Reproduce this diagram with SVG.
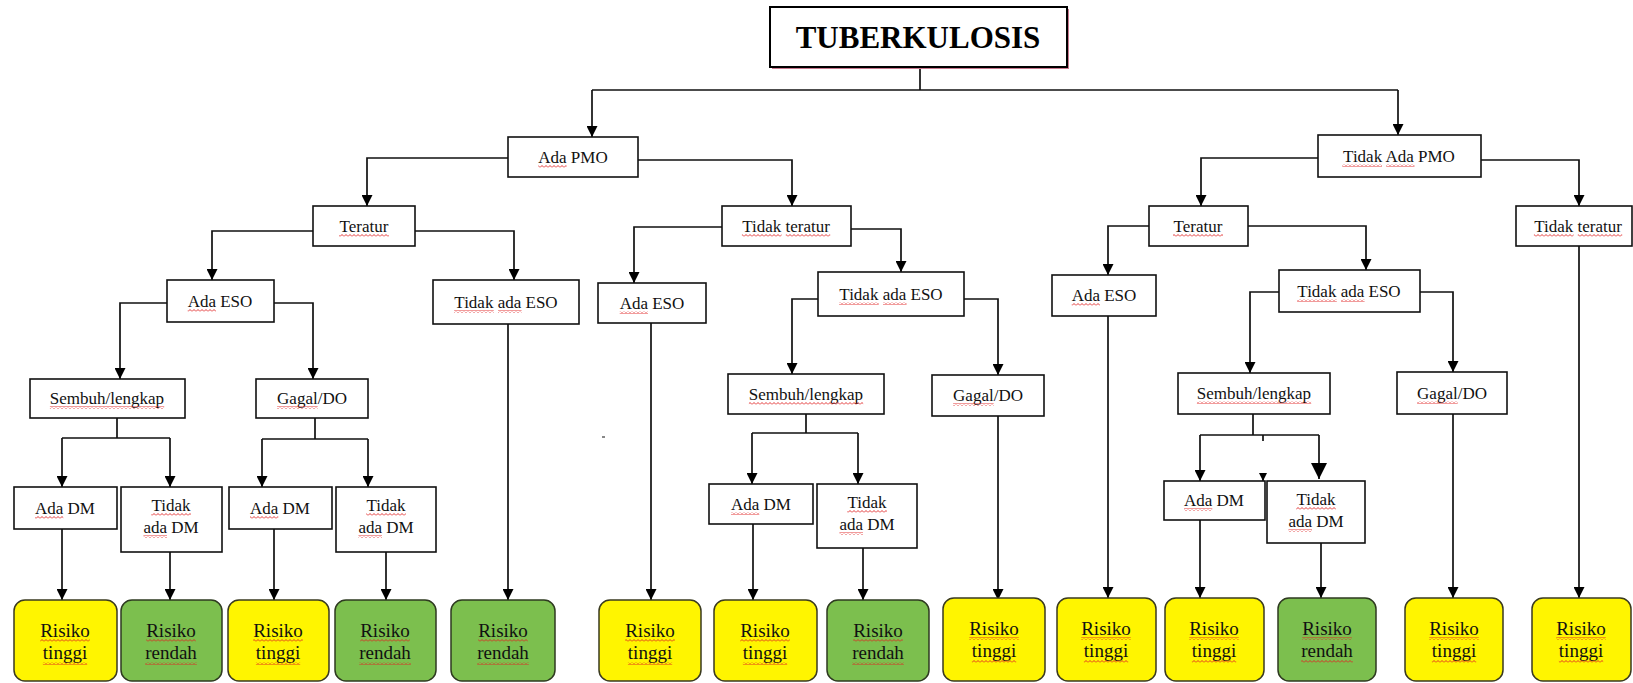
<svg xmlns="http://www.w3.org/2000/svg" width="1633" height="683" viewBox="0 0 1633 683">
<style>
.bg{fill:#ffffff}
.box{fill:#ffffff;stroke:#111;stroke-width:1.6}
.t{font-family:"Liberation Serif","Times New Roman",serif;font-size:17px;fill:#111;text-anchor:middle}
.r{font-family:"Liberation Serif","Times New Roman",serif;font-size:19px;fill:#111;text-anchor:middle}
.title{font-family:"Liberation Serif","Times New Roman",serif;font-size:31px;font-weight:bold;fill:#000;text-anchor:middle}
.sq{fill:url(#wv)}
.hi{fill:#fff500;stroke:#3a3a20;stroke-width:1.5}
.lo{fill:#7cbf4e;stroke:#2e3a20;stroke-width:1.5}
.c path,.c line{fill:none;stroke:#111;stroke-width:1.7}
.a{marker-end:url(#ah)}
</style>
<defs>
<pattern id="wv" width="4" height="3" patternUnits="userSpaceOnUse"><path d="M0,2.5 L2,0.5 L4,2.5" fill="none" stroke="#e02020" stroke-width="0.9"/></pattern>
<marker id="ah" viewBox="0 0 10 10" refX="10" refY="5" markerWidth="11" markerHeight="11" markerUnits="userSpaceOnUse" orient="auto"><path d="M0,0 L10,5 L0,10 z" fill="#000"/></marker>
<marker id="ahb" viewBox="0 0 10 10" refX="10" refY="5" markerWidth="16" markerHeight="16" markerUnits="userSpaceOnUse" orient="auto"><path d="M0,0 L10,5 L0,10 z" fill="#000"/></marker>
<marker id="ahs" viewBox="0 0 10 10" refX="10" refY="5" markerWidth="8" markerHeight="8" markerUnits="userSpaceOnUse" orient="auto"><path d="M0,0 L10,5 L0,10 z" fill="#000"/></marker>
</defs>
<rect class="bg" x="0" y="0" width="1633" height="683"/>
<rect x="602" y="436" width="3" height="2" fill="#888"/>

<g class="c" id="connectors">
<line x1="920" y1="67" x2="920" y2="90"/>
<line x1="592" y1="90" x2="1398" y2="90"/>
<path class="a" d="M592,90 V137"/>
<path class="a" d="M1398,90 V135"/>
<path class="a" d="M508,158 H367 V206"/>
<path class="a" d="M638,160 H792 V206"/>
<path class="a" d="M313,231 H212 V280"/>
<path class="a" d="M415,231 H514 V280"/>
<path class="a" d="M167,303 H120 V379"/>
<path class="a" d="M274,303 H313 V379"/>
<path d="M117,418 V438 M62,438 H170"/>
<path class="a" d="M62,438 V487"/>
<path class="a" d="M170,438 V487"/>
<path d="M315,418 V439 M262,439 H368"/>
<path class="a" d="M262,439 V487"/>
<path class="a" d="M368,439 V487"/>
<path class="a" d="M62,529 V600"/>
<path class="a" d="M170,552 V600"/>
<path class="a" d="M274,529 V600"/>
<path class="a" d="M386,552 V600"/>
<path class="a" d="M508,324 V600"/>
<path class="a" d="M722,227 H634 V283"/>
<path class="a" d="M851,229 H901 V272"/>
<path class="a" d="M651,323 V600"/>
<path class="a" d="M818,299 H792 V374"/>
<path class="a" d="M964,299 H998 V375"/>
<path d="M806,414 V433 M752,433 H858"/>
<path class="a" d="M752,433 V484"/>
<path class="a" d="M858,433 V484"/>
<path class="a" d="M753,524 V600"/>
<path class="a" d="M863,548 V600"/>
<path class="a" d="M998,416 V600"/>
<path class="a" d="M1318,158 H1201 V206"/>
<path class="a" d="M1481,160 H1579 V206"/>
<path class="a" d="M1149,226 H1108 V275"/>
<path class="a" d="M1248,226 H1366 V270"/>
<path class="a" d="M1108,316 V598"/>
<path class="a" d="M1279,292 H1250 V373"/>
<path class="a" d="M1420,292 H1453 V372"/>
<path d="M1253,414 V435 M1200,435 H1319"/>
<path class="a" d="M1200,435 V481"/>
<path d="M1319,435 V479" marker-end="url(#ahb)"/>
<path d="M1263,435 V441"/>
<path d="M1263,473 V481" marker-end="url(#ahs)"/>
<path class="a" d="M1200,520 V598"/>
<path class="a" d="M1321,543 V598"/>
<path class="a" d="M1453,414 V598"/>
<path class="a" d="M1579,246 V598"/>
</g>

<g id="n_title">
<rect x="772" y="9" width="297" height="60" fill="#c9798f"/>
<rect x="770" y="7" width="297" height="60" fill="#fff" stroke="#000" stroke-width="2"/>
<text class="title" x="918" y="48">TUBERKULOSIS</text>
</g>

<g id="n_adapmo"><rect class="box" x="508" y="137" width="130" height="40"/><text class="t" x="573" y="163">Ada PMO</text><rect class="sq" x="538.3" y="165" width="28.3" height="3"/></g>
<g id="n_tidakadapmo"><rect class="box" x="1318" y="135" width="163" height="42"/><text class="t" x="1399" y="162">Tidak Ada PMO</text><rect class="sq" x="1342.3" y="164" width="39.7" height="3"/><rect class="sq" x="1386.2" y="164" width="28.3" height="3"/></g>

<g id="n_teratur1"><rect class="box" x="313" y="206" width="102" height="40"/><text class="t" x="364" y="232">Teratur</text><rect class="sq" x="339" y="234" width="50" height="3"/></g>
<g id="n_tidakteratur1"><rect class="box" x="722" y="206" width="129" height="40"/><text class="t" x="786" y="232">Tidak teratur</text><rect class="sq" x="741.9" y="234" width="39.7" height="3"/><rect class="sq" x="785.8" y="234" width="44.4" height="3"/></g>
<g id="n_teratur2"><rect class="box" x="1149" y="206" width="99" height="40"/><text class="t" x="1198" y="232">Teratur</text><rect class="sq" x="1173" y="234" width="50" height="3"/></g>
<g id="n_tidakteratur2"><rect class="box" x="1516" y="206" width="116" height="40"/><text class="t" x="1578" y="232">Tidak teratur</text><rect class="sq" x="1533.9" y="234" width="39.7" height="3"/><rect class="sq" x="1577.8" y="234" width="44.4" height="3"/></g>

<g id="n_adaeso1"><rect class="box" x="167" y="280" width="107" height="42"/><text class="t" x="220" y="307">Ada ESO</text><rect class="sq" x="187.7" y="309" width="28.3" height="3"/></g>
<g id="n_tidakadaeso1"><rect class="box" x="433" y="280" width="146" height="44"/><text class="t" x="506" y="308">Tidak ada ESO</text><rect class="sq" x="454.1" y="310" width="39.7" height="3"/><rect class="sq" x="498" y="310" width="23.6" height="3"/></g>
<g id="n_adaeso2"><rect class="box" x="598" y="283" width="108" height="40"/><text class="t" x="652" y="309">Ada ESO</text><rect class="sq" x="619.7" y="311" width="28.3" height="3"/></g>
<g id="n_tidakadaeso2"><rect class="box" x="818" y="272" width="146" height="44"/><text class="t" x="891" y="300">Tidak ada ESO</text><rect class="sq" x="839.1" y="302" width="39.7" height="3"/><rect class="sq" x="883" y="302" width="23.6" height="3"/></g>
<g id="n_adaeso3"><rect class="box" x="1052" y="275" width="104" height="41"/><text class="t" x="1104" y="301">Ada ESO</text><rect class="sq" x="1071.7" y="303" width="28.3" height="3"/></g>
<g id="n_tidakadaeso3"><rect class="box" x="1279" y="270" width="141" height="42"/><text class="t" x="1349" y="297">Tidak ada ESO</text><rect class="sq" x="1297.1" y="299" width="39.7" height="3"/><rect class="sq" x="1341" y="299" width="23.6" height="3"/></g>

<g id="n_sembuh1"><rect class="box" x="30" y="379" width="155" height="39"/><text class="t" x="107" y="404">Sembuh/lengkap</text><rect class="sq" x="49.9" y="406" width="114.3" height="3"/></g>
<g id="n_gagal1"><rect class="box" x="256" y="379" width="112" height="39"/><text class="t" x="312" y="404">Gagal/DO</text><rect class="sq" x="277.1" y="406" width="40.6" height="3"/></g>
<g id="n_sembuh2"><rect class="box" x="728" y="374" width="156" height="40"/><text class="t" x="806" y="400">Sembuh/lengkap</text><rect class="sq" x="748.9" y="402" width="114.3" height="3"/></g>
<g id="n_gagal2"><rect class="box" x="932" y="375" width="112" height="41"/><text class="t" x="988" y="401">Gagal/DO</text><rect class="sq" x="953.1" y="403" width="40.6" height="3"/></g>
<g id="n_sembuh3"><rect class="box" x="1178" y="373" width="152" height="41"/><text class="t" x="1254" y="399">Sembuh/lengkap</text><rect class="sq" x="1196.9" y="401" width="114.3" height="3"/></g>
<g id="n_gagal3"><rect class="box" x="1397" y="372" width="110" height="42"/><text class="t" x="1452" y="399">Gagal/DO</text><rect class="sq" x="1417.1" y="401" width="40.6" height="3"/></g>

<g id="n_adadm1"><rect class="box" x="14" y="487" width="103" height="42"/><text class="t" x="65" y="514">Ada DM</text><rect class="sq" x="35" y="516" width="28.3" height="3"/></g>
<g id="n_tidakadadm1"><rect class="box" x="121" y="487" width="101" height="65"/><text class="t" x="171" y="511">Tidak</text><text class="t" x="171" y="533">ada DM</text><rect class="sq" x="151.2" y="513" width="39.7" height="3"/><rect class="sq" x="143.4" y="535" width="23.6" height="3"/></g>
<g id="n_adadm2"><rect class="box" x="229" y="487" width="103" height="42"/><text class="t" x="280" y="514">Ada DM</text><rect class="sq" x="250" y="516" width="28.3" height="3"/></g>
<g id="n_tidakadadm2"><rect class="box" x="336" y="487" width="100" height="65"/><text class="t" x="386" y="511">Tidak</text><text class="t" x="386" y="533">ada DM</text><rect class="sq" x="366.2" y="513" width="39.7" height="3"/><rect class="sq" x="358.4" y="535" width="23.6" height="3"/></g>
<g id="n_adadm3"><rect class="box" x="709" y="484" width="104" height="40"/><text class="t" x="761" y="510">Ada DM</text><rect class="sq" x="731" y="512" width="28.3" height="3"/></g>
<g id="n_tidakadadm3"><rect class="box" x="817" y="484" width="100" height="64"/><text class="t" x="867" y="508">Tidak</text><text class="t" x="867" y="530">ada DM</text><rect class="sq" x="847.2" y="510" width="39.7" height="3"/><rect class="sq" x="839.4" y="532" width="23.6" height="3"/></g>
<g id="n_adadm4"><rect class="box" x="1164" y="481" width="101" height="39"/><text class="t" x="1214" y="506">Ada DM</text><rect class="sq" x="1184" y="508" width="28.3" height="3"/></g>
<g id="n_tidakadadm4"><rect class="box" x="1267" y="481" width="98" height="62"/><text class="t" x="1316" y="505">Tidak</text><text class="t" x="1316" y="527">ada DM</text><rect class="sq" x="1296.2" y="507" width="39.7" height="3"/><rect class="sq" x="1288.4" y="529" width="23.6" height="3"/></g>

<g id="r1"><rect class="hi" x="14" y="600" width="103" height="81" rx="11"/><text class="r" x="65" y="637">Risiko</text><text class="r" x="65" y="659">tinggi</text><rect class="sq" x="40.2" y="639" width="49.6" height="3"/><rect class="sq" x="42.9" y="662" width="44.3" height="3"/></g>
<g id="r2"><rect class="lo" x="121" y="600" width="101" height="81" rx="11"/><text class="r" x="171" y="637">Risiko</text><text class="r" x="171" y="659">rendah</text><rect class="sq" x="146.2" y="639" width="49.6" height="3"/><rect class="sq" x="145.2" y="662" width="51.7" height="3"/></g>
<g id="r3"><rect class="hi" x="228" y="600" width="101" height="81" rx="11"/><text class="r" x="278" y="637">Risiko</text><text class="r" x="278" y="659">tinggi</text><rect class="sq" x="253.2" y="639" width="49.6" height="3"/><rect class="sq" x="255.9" y="662" width="44.3" height="3"/></g>
<g id="r4"><rect class="lo" x="335" y="600" width="101" height="81" rx="11"/><text class="r" x="385" y="637">Risiko</text><text class="r" x="385" y="659">rendah</text><rect class="sq" x="360.2" y="639" width="49.6" height="3"/><rect class="sq" x="359.2" y="662" width="51.7" height="3"/></g>
<g id="r5"><rect class="lo" x="451" y="600" width="104" height="81" rx="11"/><text class="r" x="503" y="637">Risiko</text><text class="r" x="503" y="659">rendah</text><rect class="sq" x="478.2" y="639" width="49.6" height="3"/><rect class="sq" x="477.2" y="662" width="51.7" height="3"/></g>
<g id="r6"><rect class="hi" x="599" y="600" width="102" height="81" rx="11"/><text class="r" x="650" y="637">Risiko</text><text class="r" x="650" y="659">tinggi</text><rect class="sq" x="625.2" y="639" width="49.6" height="3"/><rect class="sq" x="627.9" y="662" width="44.3" height="3"/></g>
<g id="r7"><rect class="hi" x="714" y="600" width="103" height="81" rx="11"/><text class="r" x="765" y="637">Risiko</text><text class="r" x="765" y="659">tinggi</text><rect class="sq" x="740.2" y="639" width="49.6" height="3"/><rect class="sq" x="742.9" y="662" width="44.3" height="3"/></g>
<g id="r8"><rect class="lo" x="827" y="600" width="102" height="81" rx="11"/><text class="r" x="878" y="637">Risiko</text><text class="r" x="878" y="659">rendah</text><rect class="sq" x="853.2" y="639" width="49.6" height="3"/><rect class="sq" x="852.2" y="662" width="51.7" height="3"/></g>
<g id="r9"><rect class="hi" x="943" y="598" width="102" height="83" rx="11"/><text class="r" x="994" y="635">Risiko</text><text class="r" x="994" y="657">tinggi</text><rect class="sq" x="969.2" y="637" width="49.6" height="3"/><rect class="sq" x="971.9" y="660" width="44.3" height="3"/></g>
<g id="r10"><rect class="hi" x="1057" y="598" width="99" height="83" rx="11"/><text class="r" x="1106" y="635">Risiko</text><text class="r" x="1106" y="657">tinggi</text><rect class="sq" x="1081.2" y="637" width="49.6" height="3"/><rect class="sq" x="1083.9" y="660" width="44.3" height="3"/></g>
<g id="r11"><rect class="hi" x="1165" y="598" width="99" height="83" rx="11"/><text class="r" x="1214" y="635">Risiko</text><text class="r" x="1214" y="657">tinggi</text><rect class="sq" x="1189.2" y="637" width="49.6" height="3"/><rect class="sq" x="1191.9" y="660" width="44.3" height="3"/></g>
<g id="r12"><rect class="lo" x="1278" y="598" width="98" height="83" rx="11"/><text class="r" x="1327" y="635">Risiko</text><text class="r" x="1327" y="657">rendah</text><rect class="sq" x="1302.2" y="637" width="49.6" height="3"/><rect class="sq" x="1301.2" y="660" width="51.7" height="3"/></g>
<g id="r13"><rect class="hi" x="1405" y="598" width="98" height="83" rx="11"/><text class="r" x="1454" y="635">Risiko</text><text class="r" x="1454" y="657">tinggi</text><rect class="sq" x="1429.2" y="637" width="49.6" height="3"/><rect class="sq" x="1431.9" y="660" width="44.3" height="3"/></g>
<g id="r14"><rect class="hi" x="1532" y="598" width="99" height="83" rx="11"/><text class="r" x="1581" y="635">Risiko</text><text class="r" x="1581" y="657">tinggi</text><rect class="sq" x="1556.2" y="637" width="49.6" height="3"/><rect class="sq" x="1558.9" y="660" width="44.3" height="3"/></g>
</svg>
